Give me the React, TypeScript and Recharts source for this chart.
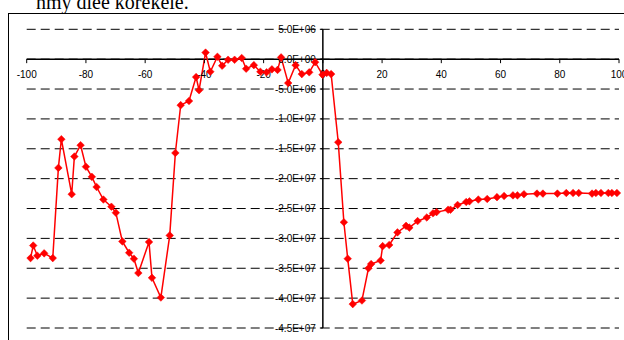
import {
  LineChart, Line, XAxis, YAxis, CartesianGrid, ReferenceLine, ReferenceDot,
} from 'recharts';

// x positions of the measured points
const xValues = [
  -98.7, -97.8, -96.4, -94.1, -91.2, -89.3, -88.3, -84.8, -83.9, -81.8,
  -80.0, -78.0, -76.4, -74.1, -71.4, -69.9, -67.7, -65.4, -63.8, -62.3,
  -58.7, -57.7, -54.7, -51.7, -49.8, -48.0, -45.2, -42.8, -41.8, -39.6,
  -38.0, -35.6, -34.0, -32.0, -29.8, -27.4, -25.9, -23.3, -21.1, -19.0,
  -17.2, -15.3, -14.1, -11.7, -9.2, -7.1, -4.6, -2.6, -0.1, 1.3,
  2.8, 5.2, 7.1, 8.4, 10.1, 13.2, 15.4, 16.3, 19.5, 20.2,
  22.4, 25.2, 28.1, 29.2, 32.0, 35.1, 37.2, 38.4, 42.3, 43.1,
  45.5, 48.4, 49.5, 52.5, 55.5, 58.8, 61.2, 64.2, 65.7, 67.9,
  72.3, 74.3, 79.2, 82.2, 84.5, 86.4, 90.9, 92.2, 93.9, 96.4, 97.6, 99.3,
];

// values, in millions
const yMillions = [
  -33.3, -31.2, -32.9, -32.5, -33.3, -18.2, -13.4, -22.6, -16.3, -14.4,
  -18.0, -19.7, -21.4, -23.5, -24.7, -25.7, -30.5, -32.4, -33.4, -35.8,
  -30.6, -36.6, -39.9, -29.5, -15.7, -7.7, -7.0, -3.0, -5.2, 1.1,
  -2.1, 0.4, -1.1, -0.1, -0.1, 0.2, -1.6, -1.0, -2.1, -2.2,
  -1.7, -1.8, 0.3, -4.0, -1.0, -2.5, -2.2, -0.5, -2.6, -2.3,
  -2.5, -13.9, -27.3, -33.4, -41.0, -40.4, -35.0, -34.3, -33.7, -31.3,
  -31.1, -29.0, -27.9, -28.2, -27.1, -26.5, -25.8, -25.6, -25.2, -25.2,
  -24.4, -23.9, -23.8, -23.5, -23.4, -23.1, -22.9, -22.8, -22.8, -22.6,
  -22.5, -22.5, -22.5, -22.4, -22.4, -22.4, -22.5, -22.4, -22.4, -22.4, -22.4, -22.4,
];

const xTicks = [-100, -80, -60, -40, -20, 0, 20, 40, 60, 80, 100];
const yTicks = [5e6, 0, -5e6, -10e6, -15e6, -20e6, -25e6, -30e6, -35e6, -40e6, -45e6];

const data = xValues.map((x, i) => ({ x, y: yMillions[i] * 1e6 }));

const labelFont = '"Liberation Sans", Arial, sans-serif';

function sci(v: number) {
  if (v === 0) return '0.0E+00';
  const [m, e] = v.toExponential(1).split('e');
  const exp = parseInt(e, 10);
  return `${m}E${exp < 0 ? '-' : '+'}${String(Math.abs(exp)).padStart(2, '0')}`;
}

function Diamond({ cx, cy }: { cx?: number; cy?: number }) {
  if (cx == null || cy == null) return null;
  const r = 3.8;
  return (
    <path
      d={`M${cx},${cy - r}L${cx + r},${cy}L${cx},${cy + r}L${cx - r},${cy}Z`}
      fill="#ff0000"
      stroke="#ff0000"
      strokeWidth={0.5}
    />
  );
}

function XTick({ cx, cy, value }: { cx?: number; cy?: number; value: number }) {
  if (cx == null || cy == null) return null;
  return (
    <g>
      <line x1={cx} x2={cx} y1={cy} y2={cy + 4} stroke="#000" strokeWidth={1} />
      <text x={cx} y={cy + 15} textAnchor="middle" dominantBaseline="central"
        fontSize={10} fontFamily={labelFont} fill="#000">
        {value}
      </text>
    </g>
  );
}

function YTick({ cx, cy, value }: { cx?: number; cy?: number; value: number }) {
  if (cx == null || cy == null) return null;
  return (
    <g>
      <line x1={cx - 3} x2={cx} y1={cy} y2={cy} stroke="#000" strokeWidth={1} />
      <text x={cx - 7} y={cy} textAnchor="end" dominantBaseline="central"
        fontSize={10} fontFamily={labelFont} fill="#000">
        {sci(value)}
      </text>
    </g>
  );
}

export default function App() {
  return (
    <div style={{
      position: 'fixed', left: 0, top: 0, width: 624, height: 340,
      overflow: 'hidden', background: '#fff',
    }}>
      <div style={{
        position: 'absolute', left: 36, top: -8, lineHeight: '20px',
        fontSize: 20, fontFamily: '"Liberation Serif", "Times New Roman", serif',
        whiteSpace: 'nowrap', color: '#000',
      }}>
        nmy dlee korekele.
      </div>
      <div style={{
        position: 'absolute', left: 8, top: 13, width: 700, height: 400,
        border: '1px solid #000',
      }} />
      <div style={{ position: 'absolute', left: 0, top: 0 }}>
        <LineChart
          width={624}
          height={340}
          data={data}
          margin={{ top: 29.3, right: 5, left: 26.7, bottom: 12 }}
        >
          <CartesianGrid
            vertical={false}
            stroke="#000"
            strokeDasharray="9 5"
          />
          <XAxis type="number" dataKey="x" domain={[-100, 100]} ticks={xTicks} hide />
          <YAxis type="number" domain={[-45e6, 5e6]} ticks={yTicks} hide />

          <ReferenceLine y={0} stroke="#000" strokeWidth={1.5} />
          <ReferenceLine x={0} stroke="#000" strokeWidth={1.5} />

          {xTicks.map(t => (
            <ReferenceDot key={`x${t}`} x={t} y={0} r={0}
              shape={(p: any) => <XTick cx={p.cx} cy={p.cy} value={t} />} />
          ))}
          {yTicks.map(t => (
            <ReferenceDot key={`y${t}`} x={0} y={t} r={0}
              shape={(p: any) => <YTick cx={p.cx} cy={p.cy} value={t} />} />
          ))}

          <Line
            type="linear"
            dataKey="y"
            stroke="#ff0000"
            strokeWidth={1.5}
            dot={(p: any) => <Diamond key={p.index} cx={p.cx} cy={p.cy} />}
            activeDot={false}
            isAnimationActive={false}
          />
        </LineChart>
      </div>
    </div>
  );
}
